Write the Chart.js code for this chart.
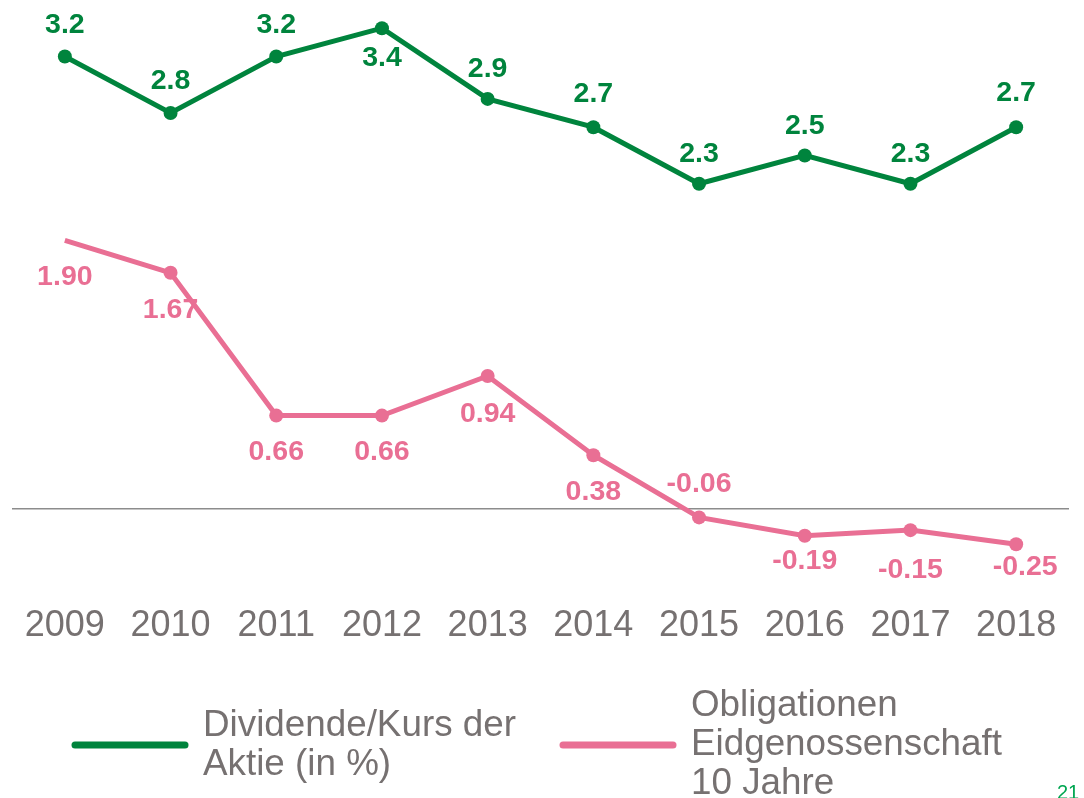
<!DOCTYPE html>
<html>
<head>
<meta charset="utf-8">
<script src="https://cdn.jsdelivr.net/npm/chart.js@4.4.1/dist/chart.umd.min.js"></script>
<style>
  html, body { margin: 0; padding: 0; background: #fff; overflow: hidden; }
  #wrap { width: 1084px; height: 798px; }
</style>
</head>
<body>
<div id="wrap"><canvas id="chart" width="1084" height="798"></canvas></div>
<script>
// Chart data
const years = ['2009', '2010', '2011', '2012', '2013', '2014', '2015', '2016', '2017', '2018'];
const dividendYield = [3.2, 2.8, 3.2, 3.4, 2.9, 2.7, 2.3, 2.5, 2.3, 2.7];
const bondYield = [1.90, 1.67, 0.66, 0.66, 0.94, 0.38, -0.06, -0.19, -0.15, -0.25];
const seriesNames = [
  ['Dividende/Kurs der', 'Aktie (in %)'],
  ['Obligationen', 'Eidgenossenschaft', '10 Jahre']
];
const pageNumber = '21';

// Label placement (pixel offsets from each point)
const dividendLabelDy = [-31, -32, -31, 30, -30, -33, -30, -29, -30, -34];
const bondLabelDy = [37, 37, 37, 37, 38, 37, -33, 25, 40, 23];
const bondLabelDx = [0, 0, 0, 0, 0, 0, 0, 0, 0, 9];

const GREEN = '#00843d';
const PINK = '#e96f94';
const GREY_TEXT = '#767171';
const FONT = '"Liberation Sans", Arial, sans-serif';

// Draws the value next to every point
const valueLabels = {
  id: 'valueLabels',
  afterDatasetsDraw(chart) {
    const ctx = chart.ctx;
    ctx.save();
    ctx.font = 'bold 28.5px ' + FONT;
    ctx.textAlign = 'center';
    ctx.textBaseline = 'middle';
    chart.data.datasets.forEach((ds, di) => {
      const meta = chart.getDatasetMeta(di);
      ctx.fillStyle = ds.borderColor;
      meta.data.forEach((pt, i) => {
        const dx = ds.labelDx ? ds.labelDx[i] : 0;
        ctx.fillText(ds.labelText[i], pt.x + dx, pt.y + ds.labelDy[i]);
      });
    });
    ctx.restore();
  }
};

// Legend with wrapped text, plus the page number
const wrapLegend = {
  id: 'wrapLegend',
  afterDraw(chart, args, opts) {
    const ctx = chart.ctx;
    ctx.save();
    ctx.font = '36.8px ' + FONT;
    ctx.textAlign = 'left';
    ctx.textBaseline = 'alphabetic';
    chart.data.datasets.forEach((ds, di) => {
      const x0 = opts.itemX[di];
      const lines = seriesNames[di];
      ctx.strokeStyle = ds.borderColor;
      ctx.lineWidth = 7;
      ctx.lineCap = 'round';
      ctx.beginPath();
      ctx.moveTo(x0, opts.centerY + 3);
      ctx.lineTo(x0 + opts.symbolLength, opts.centerY + 3);
      ctx.stroke();
      ctx.fillStyle = GREY_TEXT;
      const first = opts.centerY - (lines.length - 1) * opts.lineHeight / 2 + 13;
      lines.forEach((line, li) => {
        ctx.fillText(line, x0 + opts.symbolLength + 18, first + li * opts.lineHeight);
      });
    });
    ctx.fillStyle = '#00a651';
    ctx.font = '20px ' + FONT;
    ctx.textAlign = 'center';
    ctx.fillText(pageNumber, 1068, 799);
    ctx.restore();
  }
};

const ctx = document.getElementById('chart').getContext('2d');
const chart = new Chart(ctx, {
  type: 'line',
  data: {
    labels: years,
    datasets: [
      {
        label: seriesNames[0].join(' '),
        data: dividendYield,
        borderColor: GREEN,
        backgroundColor: GREEN,
        borderWidth: 5,
        pointRadius: 7,
        pointBorderWidth: 0,
        tension: 0,
        labelText: dividendYield.map(v => v.toFixed(1)),
        labelDy: dividendLabelDy
      },
      {
        label: seriesNames[1].join(' '),
        data: bondYield,
        borderColor: PINK,
        backgroundColor: PINK,
        borderWidth: 5,
        pointRadius: years.map((_, i) => i === 0 ? 0 : 7),
        pointBorderWidth: 0,
        tension: 0,
        labelText: bondYield.map(v => v.toFixed(2)),
        labelDy: bondLabelDy,
        labelDx: bondLabelDx
      }
    ]
  },
  options: {
    responsive: false,
    animation: false,
    devicePixelRatio: 1,
    layout: { padding: { left: 12, right: 15, top: 0, bottom: 142 } },
    scales: {
      x: {
        offset: true,
        grid: { display: false },
        border: { display: false },
        ticks: {
          color: GREY_TEXT,
          font: { family: FONT, size: 36 },
          padding: 8,
          maxRotation: 0,
          autoSkip: false
        }
      },
      y: {
        min: -0.565,
        max: 3.55,
        afterBuildTicks: axis => { axis.ticks = [{ value: 0 }]; },
        ticks: { display: false },
        border: { display: false },
        grid: { drawTicks: false, color: '#8c8c8c', lineWidth: 1.5 }
      }
    },
    plugins: {
      legend: { display: false },
      tooltip: { enabled: false },
      wrapLegend: { itemX: [75, 563], symbolLength: 110, centerY: 742, lineHeight: 39 }
    }
  },
  plugins: [valueLabels, wrapLegend]
});
</script>
</body>
</html>
